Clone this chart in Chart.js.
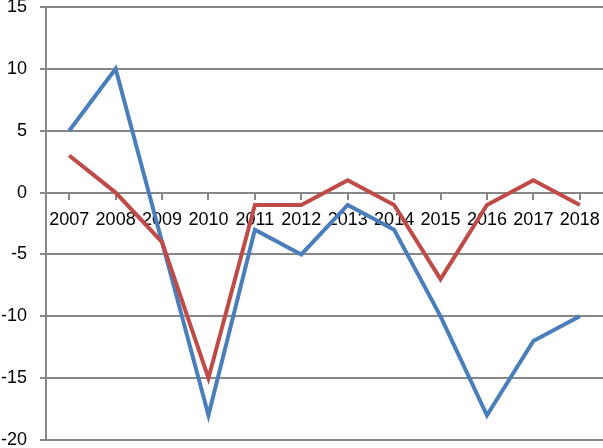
<!DOCTYPE html>
<html lang="en">
<head>
    <meta charset="UTF-8">
    <title>Line chart 2007-2018</title>
    <script src="https://cdn.jsdelivr.net/npm/chart.js"></script>
    <style>
        html, body {
            margin: 0;
            padding: 0;
            background: #fff;
        }
        #wrap {
            width: 603px;
            height: 448px;
        }
    </style>
</head>
<body>
    <div id="wrap">
        <canvas id="myChart"></canvas>
    </div>

    <script>
        const years = ['2007', '2008', '2009', '2010', '2011', '2012', '2013', '2014', '2015', '2016', '2017', '2018'];
        const blueSeries = [5, 10, -4, -18, -3, -5, -1, -3, -10, -18, -12, -10];
        const redSeries = [3, 0, -4, -15, -1, -1, 1, -1, -7, -1, 1, -1];
        const yMin = -20;
        const yMax = 15;
        const yStep = 5;

        const gridGray = '#878787';
        const font = { family: '"Liberation Sans", Arial, sans-serif', size: 18 };

        const ctx = document.getElementById('myChart').getContext('2d');
        const myChart = new Chart(ctx, {
            type: 'line',
            data: {
                labels: years,
                datasets: [{
                    label: 'Series 1',
                    data: blueSeries,
                    borderColor: '#4a7ebb',
                    backgroundColor: '#4a7ebb',
                    borderWidth: 4,
                    pointRadius: 0,
                    tension: 0,
                    fill: false,
                    order: 2
                }, {
                    label: 'Series 2',
                    data: redSeries,
                    borderColor: '#be4b48',
                    backgroundColor: '#be4b48',
                    borderWidth: 4,
                    pointRadius: 0,
                    tension: 0,
                    fill: false,
                    order: 1
                }]
            },
            options: {
                responsive: true,
                maintainAspectRatio: false,
                animation: false,
                layout: { padding: 0 },
                plugins: {
                    legend: { display: false },
                    tooltip: { enabled: false }
                },
                scales: {
                    x: {
                        type: 'category',
                        position: { y: 0 },
                        offset: true,
                        grid: {
                            drawOnChartArea: false,
                            drawTicks: true,
                            tickLength: 6,
                            color: gridGray,
                            lineWidth: 2
                        },
                        border: { display: true, color: gridGray, width: 2 },
                        ticks: {
                            color: '#000',
                            font: font,
                            padding: 11,
                            maxRotation: 0,
                            autoSkip: false
                        },
                        afterFit: (s) => {
                            s.paddingLeft = 0;
                            s.paddingRight = 0;
                        }
                    },
                    y: {
                        min: yMin,
                        max: yMax,
                        ticks: {
                            stepSize: yStep,
                            color: '#000',
                            font: font,
                            padding: 13
                        },
                        grid: {
                            color: gridGray,
                            lineWidth: 2,
                            tickLength: 6
                        },
                        border: { display: true, color: gridGray, width: 2 },
                        afterFit: (s) => {
                            s.width = 46;
                            s.paddingTop = 7;
                            s.paddingBottom = 8;
                        }
                    }
                }
            }
        });
    </script>
</body>
</html>
